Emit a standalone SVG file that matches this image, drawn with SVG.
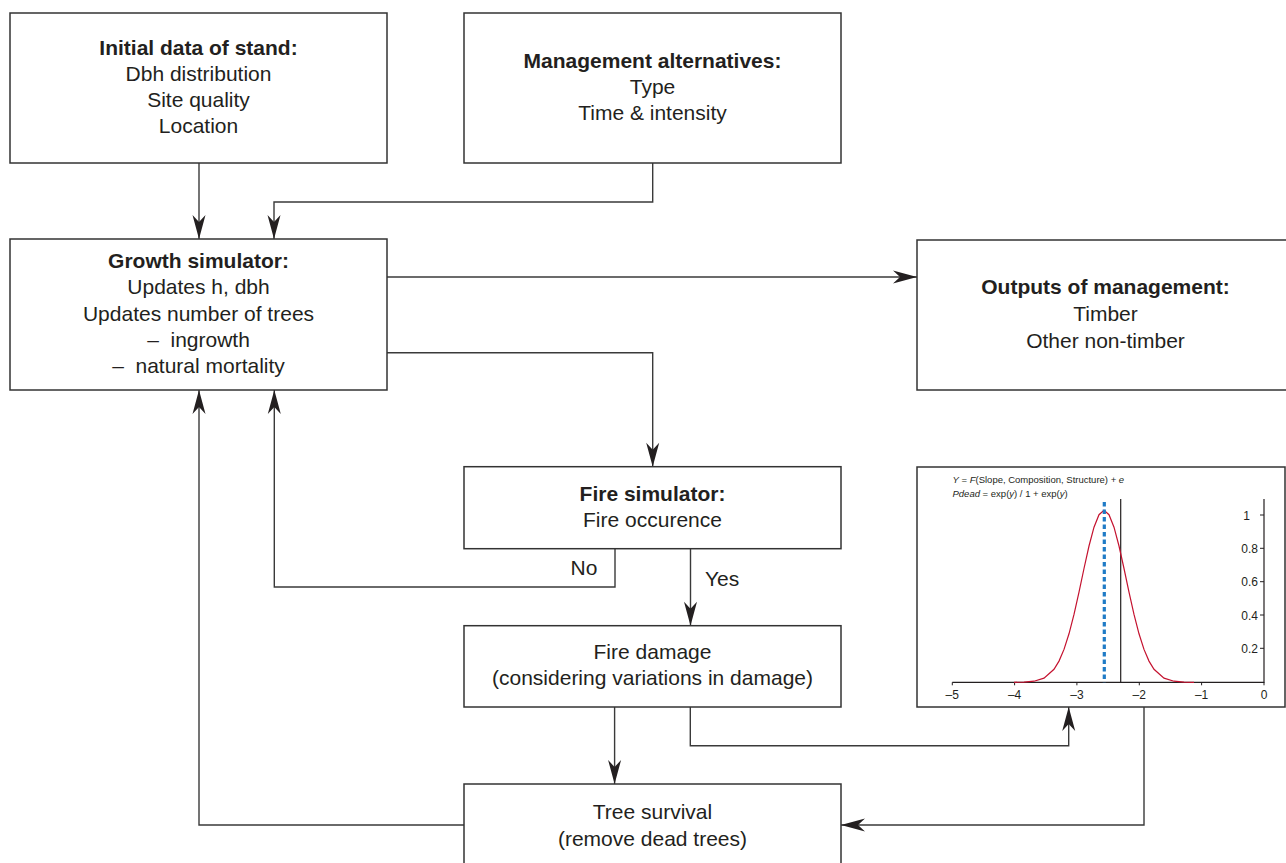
<svg xmlns="http://www.w3.org/2000/svg" width="1286" height="863" viewBox="0 0 1286 863">
<style>
.box{fill:#fff;stroke:#333;stroke-width:1.5}
.c{fill:none;stroke:#3a3a3a;stroke-width:1.4}
text{font-family:"Liberation Sans",Arial,sans-serif;fill:#231f20}
.t{font-size:21px;text-anchor:middle}
.b{font-weight:bold}
.ax{font-size:12px}
.eq{font-size:9.5px}
</style>
<defs>
<marker id="ah" markerUnits="userSpaceOnUse" markerWidth="26" markerHeight="16" viewBox="-25 -8 26 16" refX="0" refY="0" orient="auto">
<path d="M0,0 L-24,-6.5 L-17,0 L-24,6.5 Z" fill="#231f20"/>
</marker>
</defs>
<rect width="1286" height="863" fill="#fff"/>

<g id="connectors">
<path class="c" d="M199,163 V239" marker-end="url(#ah)"/>
<path class="c" d="M652.7,163 V202 H274 V239" marker-end="url(#ah)"/>
<path class="c" d="M387,277 H917" marker-end="url(#ah)"/>
<path class="c" d="M387,352.7 H652.7 V466.7" marker-end="url(#ah)"/>
<path class="c" d="M615,548.7 V587 H274.3 V390" marker-end="url(#ah)"/>
<path class="c" d="M690.5,548.7 V625.7" marker-end="url(#ah)"/>
<path class="c" d="M614.6,707 V784" marker-end="url(#ah)"/>
<path class="c" d="M690.3,707 V745.7 H1068.7 V707" marker-end="url(#ah)"/>
<path class="c" d="M1144,707 V825 H841" marker-end="url(#ah)"/>
<path class="c" d="M464,825 H199 V390" marker-end="url(#ah)"/>
<text class="t" x="584" y="575">No</text>
<text x="705" y="586" style="font-size:21px">Yes</text>
</g>

<g id="initial">
<rect class="box" x="10" y="13" width="377" height="150"/>
<text class="t b" x="198.5" y="54.5">Initial data of stand:</text>
<text class="t" x="198.5" y="80.8">Dbh distribution</text>
<text class="t" x="198.5" y="107.1">Site quality</text>
<text class="t" x="198.5" y="133.4">Location</text>
</g>

<g id="management">
<rect class="box" x="464" y="13" width="377" height="150"/>
<text class="t b" x="652.5" y="67.8">Management alternatives:</text>
<text class="t" x="652.5" y="94">Type</text>
<text class="t" x="652.5" y="120.2">Time &amp; intensity</text>
</g>

<g id="growth">
<rect class="box" x="10" y="239" width="377" height="151"/>
<text class="t b" x="198.5" y="268.3">Growth simulator:</text>
<text class="t" x="198.5" y="294.4">Updates h, dbh</text>
<text class="t" x="198.5" y="320.5">Updates number of trees</text>
<text class="t" x="198.5" y="346.6" xml:space="preserve">–  ingrowth</text>
<text class="t" x="198.5" y="372.7" xml:space="preserve">–  natural mortality</text>
</g>

<g id="outputs">
<rect class="box" x="917" y="240" width="390" height="150"/>
<text class="t b" x="1105.5" y="294">Outputs of management:</text>
<text class="t" x="1105.5" y="320.7">Timber</text>
<text class="t" x="1105.5" y="347.5">Other non-timber</text>
</g>

<g id="fire-simulator">
<rect class="box" x="464" y="466.7" width="377" height="82"/>
<text class="t b" x="652.5" y="500.7">Fire simulator:</text>
<text class="t" x="652.5" y="526.7">Fire occurence</text>
</g>

<g id="fire-damage">
<rect class="box" x="464" y="625.7" width="377" height="81.3"/>
<text class="t" x="652.5" y="659">Fire damage</text>
<text class="t" x="652.5" y="685">(considering variations in damage)</text>
</g>

<g id="tree-survival">
<rect class="box" x="464" y="784" width="377" height="100"/>
<text class="t" x="652.5" y="819.3">Tree survival</text>
<text class="t" x="652.5" y="846">(remove dead trees)</text>
</g>

<g id="chart">
<rect class="box" x="917" y="467" width="368" height="240"/>
<text class="eq" x="952.5" y="483"><tspan font-style="italic">Y</tspan> = <tspan font-style="italic">F</tspan>(Slope, Composition, Structure) + <tspan font-style="italic">e</tspan></text>
<text class="eq" x="952.5" y="496.7"><tspan font-style="italic">Pdead</tspan> = exp(<tspan font-style="italic">y</tspan>) / 1 + exp(<tspan font-style="italic">y</tspan>)</text>
<path d="M952.3,682.3 H1264 V499" fill="none" stroke="#231f20" stroke-width="1.2"/>
<path d="M952.3,682.3 v3 M1014.6,682.3 v3 M1076.9,682.3 v3 M1139.3,682.3 v3 M1201.6,682.3 v3 M1264,682.3 v3 M1260,515 h4 M1260,548.3 h4 M1260,581.7 h4 M1260,615 h4 M1260,648.3 h4" stroke="#231f20" stroke-width="1"/>
<g class="ax" text-anchor="middle">
<text x="952.3" y="699">–5</text>
<text x="1014.6" y="699">–4</text>
<text x="1076.9" y="699">–3</text>
<text x="1139.3" y="699">–2</text>
<text x="1201.6" y="699">–1</text>
<text x="1264" y="699">0</text>
</g>
<g class="ax" text-anchor="end">
<text x="1250" y="519.5">1</text>
<text x="1258" y="552.8">0.8</text>
<text x="1258" y="586.2">0.6</text>
<text x="1258" y="619.5">0.4</text>
<text x="1258" y="652.8">0.2</text>
</g>
<line x1="1120.7" y1="499" x2="1120.7" y2="682.3" stroke="#231f20" stroke-width="1.2"/>
<polyline fill="none" stroke="#c4122f" stroke-width="1.2" points="1014,682.3 1024,682.1 1034,681.2 1044,678.1 1054,669.3 1059,661.1 1064,649.4 1069,633.8 1074,614.4 1079,592.1 1084,568.5 1089,546 1094,527.2 1099,514.7 1104,510.3 1109,514.7 1114,527.2 1119,546 1124,568.5 1129,592.1 1134,614.4 1139,633.8 1144,649.4 1149,661.1 1154,669.3 1164,678.1 1174,681.2 1184,682.1 1194,682.3"/>
<line x1="1104.3" y1="502" x2="1104.3" y2="682.3" stroke="#1f7bc6" stroke-width="3.2" stroke-dasharray="4.5,3"/>
</g>
</svg>
